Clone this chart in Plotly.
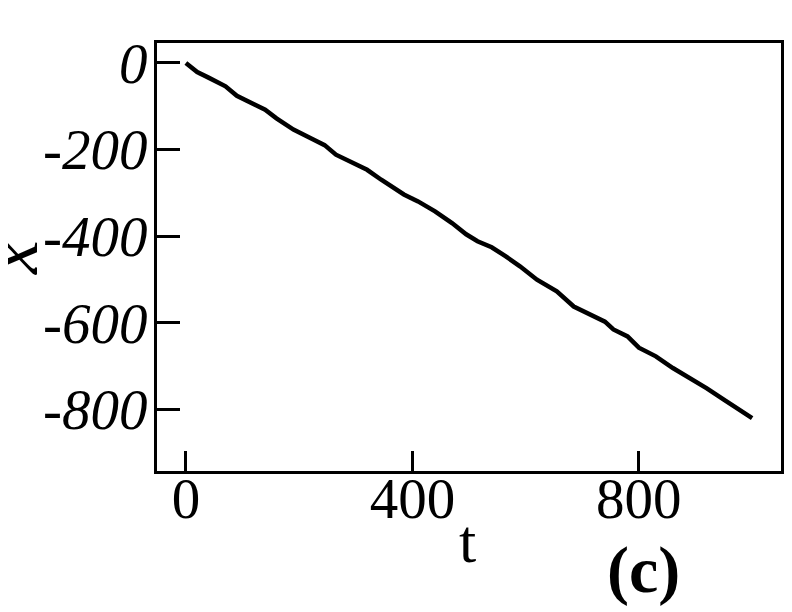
import plotly.graph_objects as go

# trajectory
t = [0, 20, 40, 70, 90, 115, 140, 160, 190, 225, 245, 265, 290, 320, 345,
     385, 410, 440, 470, 495, 515, 540, 565, 590, 620, 655, 685, 715, 740,
     755, 780, 800, 830, 860, 890, 920, 950, 980, 1000]
x = [0, -21, -34, -54, -76, -93, -108, -128, -154, -177, -190, -212, -228,
     -247, -270, -304, -320, -343, -370, -396, -412, -426, -447, -470, -501,
     -528, -563, -582, -598, -616, -632, -658, -678, -705, -728, -752, -778,
     -802, -821]

x_ticks = [0, 400, 800]
y_ticks = [0, -200, -400, -600, -800]

serif = "Liberation Serif"

fig = go.Figure()
fig.add_trace(go.Scatter(x=t, y=x, mode="lines",
                         line=dict(color="black", width=4.5),
                         showlegend=False))

fig.update_xaxes(range=[-51, 1051], tickvals=x_ticks, ticktext=[str(v) for v in x_ticks],
                 showgrid=False, zeroline=False, showline=True, mirror=True,
                 linecolor="black", linewidth=3, automargin=False,
                 ticks="inside", ticklen=20, tickwidth=3, tickcolor="black",
                 ticklabelstandoff=-24,
                 tickfont=dict(family=serif, size=57, color="black"))
fig.update_yaxes(range=[-943, 46], tickvals=y_ticks, ticktext=[str(v) for v in y_ticks],
                 showgrid=False, zeroline=False, showline=True, mirror=True,
                 linecolor="black", linewidth=3, automargin=False,
                 ticks="inside", ticklen=23, tickwidth=3, tickcolor="black",
                 ticklabelstandoff=-5,
                 tickfont=dict(family=serif, size=57, color="black", style="italic"))

# axis titles and panel tag
fig.add_annotation(text="t", xref="paper", yref="paper", x=0.498, y=-0.163,
                   xanchor="center", yanchor="middle", showarrow=False,
                   font=dict(family=serif, size=62, color="black"))
fig.add_annotation(text="x", xref="paper", yref="paper", x=-0.234, y=0.5,
                   xanchor="center", yanchor="middle", showarrow=False, textangle=-90,
                   font=dict(family=serif, size=76, color="black", style="italic"))
fig.add_annotation(text="<b>(c)</b>", xref="paper", yref="paper",
                   x=0.780, y=-0.232, xanchor="center", yanchor="middle",
                   showarrow=False, font=dict(family=serif, size=66, color="black"))

# page body adds an 8px offset, so margins are trimmed to match
fig.update_layout(width=792, height=612,
                  margin=dict(l=149, r=19, t=35, b=149),
                  plot_bgcolor="white", paper_bgcolor="white")

fig.write_html("out.html")
